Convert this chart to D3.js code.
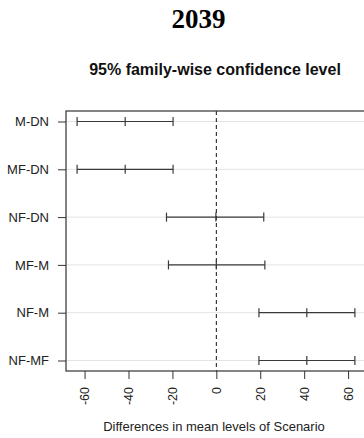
<!DOCTYPE html>
<html>
<head>
<meta charset="utf-8">
<script src="https://cdn.jsdelivr.net/npm/d3@7"></script>
<style>
  html, body { margin: 0; padding: 0; background: #fff; }
  svg { display: block; }
</style>
</head>
<body>
<div id="chart"></div>
<script>
// Tukey HSD comparisons, 2039
var comparisons = ['M-DN', 'MF-DN', 'NF-DN', 'MF-M', 'NF-M', 'NF-MF'];
var diffs = [-41.5, -41.5, -0.2, 0.0, 41.2, 41.2];
var lowers = [-63.4, -63.4, -22.7, -21.8, 19.4, 19.4];
var uppers = [-19.7, -19.7, 21.6, 22.1, 63.1, 63.1];
var xTicks = [-60, -40, -20, 0, 20, 40, 60];

var width = 364, height = 438;
var margin = { top: 111, right: -2, bottom: 67, left: 66 };

var rows = comparisons.map(function (c, i) {
  return { name: c, diff: diffs[i], lwr: lowers[i], upr: uppers[i] };
});

var svg = d3.select('#chart').append('svg')
  .attr('width', width)
  .attr('height', height)
  .style('font-family', '"Liberation Sans", Arial, sans-serif');

var lo = d3.min(lowers), hi = d3.max(uppers);
var pad = (hi - lo) * 0.04;
var x = d3.scaleLinear()
  .domain([lo - pad, hi + pad])
  .range([margin.left, width - margin.right]);

var y = d3.scalePoint()
  .domain(comparisons)
  .range([margin.top + 10.5, height - margin.bottom - 10.5]);

var plotBottom = height - margin.bottom;
var midX = (x.range()[0] + x.range()[1]) / 2;

// titles
svg.append('text')
  .attr('x', 198.5)
  .attr('y', 28)
  .attr('text-anchor', 'middle')
  .style('font-family', '"Liberation Serif", "Times New Roman", serif')
  .style('font-weight', 'bold')
  .style('font-size', '27px')
  .text('2039');

svg.append('text')
  .attr('x', midX - 1)
  .attr('y', 75)
  .attr('text-anchor', 'middle')
  .style('font-weight', 'bold')
  .style('font-size', '16px')
  .attr('fill', '#111')
  .text('95% family-wise confidence level');

// horizontal guide lines
svg.append('g').selectAll('line')
  .data(comparisons)
  .join('line')
  .attr('x1', x.range()[0])
  .attr('x2', x.range()[1])
  .attr('y1', function (d) { return y(d); })
  .attr('y2', function (d) { return y(d); })
  .attr('stroke', '#e3e3e3')
  .attr('stroke-width', 1);

// zero reference
svg.append('line')
  .attr('x1', x(0)).attr('x2', x(0))
  .attr('y1', margin.top).attr('y2', plotBottom)
  .attr('stroke', '#111')
  .attr('stroke-dasharray', '4,3');

// intervals
var bars = svg.append('g').selectAll('g')
  .data(rows)
  .join('g')
  .attr('stroke', '#3a3a3a')
  .attr('stroke-width', 1.2);

bars.append('line')
  .attr('x1', function (d) { return x(d.lwr); })
  .attr('x2', function (d) { return x(d.upr); })
  .attr('y1', function (d) { return y(d.name); })
  .attr('y2', function (d) { return y(d.name); });

['lwr', 'diff', 'upr'].forEach(function (k) {
  bars.append('line')
    .attr('x1', function (d) { return x(d[k]); })
    .attr('x2', function (d) { return x(d[k]); })
    .attr('y1', function (d) { return y(d.name) - 4.5; })
    .attr('y2', function (d) { return y(d.name) + 4.5; });
});

// box (right side falls off the canvas)
svg.append('rect')
  .attr('x', x.range()[0])
  .attr('y', margin.top)
  .attr('width', x.range()[1] - x.range()[0])
  .attr('height', plotBottom - margin.top)
  .attr('fill', 'none')
  .attr('stroke', '#333')
  .attr('stroke-width', 1.2);

// x axis
var xAxis = svg.append('g')
  .attr('transform', 'translate(0,' + plotBottom + ')')
  .call(d3.axisBottom(x).tickValues(xTicks).tickSize(8).tickSizeOuter(0)
    .tickFormat(d3.format('d')));
xAxis.select('.domain').remove();
xAxis.selectAll('.tick line').attr('stroke', '#333');
xAxis.selectAll('.tick text')
  .attr('transform', 'rotate(-90)')
  .attr('x', -16)
  .attr('y', 0)
  .attr('dy', '0.35em')
  .attr('text-anchor', 'end')
  .attr('fill', '#222')
  .style('font-size', '12.5px')
  .text(function (d) { return String(d).replace('−', '-'); });

// y axis
var yAxis = svg.append('g')
  .attr('transform', 'translate(' + x.range()[0] + ',0)')
  .call(d3.axisLeft(y).tickSize(8).tickSizeOuter(0));
yAxis.select('.domain').remove();
yAxis.selectAll('.tick line').attr('stroke', '#333');
yAxis.selectAll('.tick text')
  .attr('x', -17)
  .attr('fill', '#222')
  .style('font-size', '13px');

svg.append('text')
  .attr('x', midX - 2)
  .attr('y', 431)
  .attr('text-anchor', 'middle')
  .attr('fill', '#222')
  .style('font-size', '13px')
  .text('Differences in mean levels of Scenario');
</script>
</body>
</html>
